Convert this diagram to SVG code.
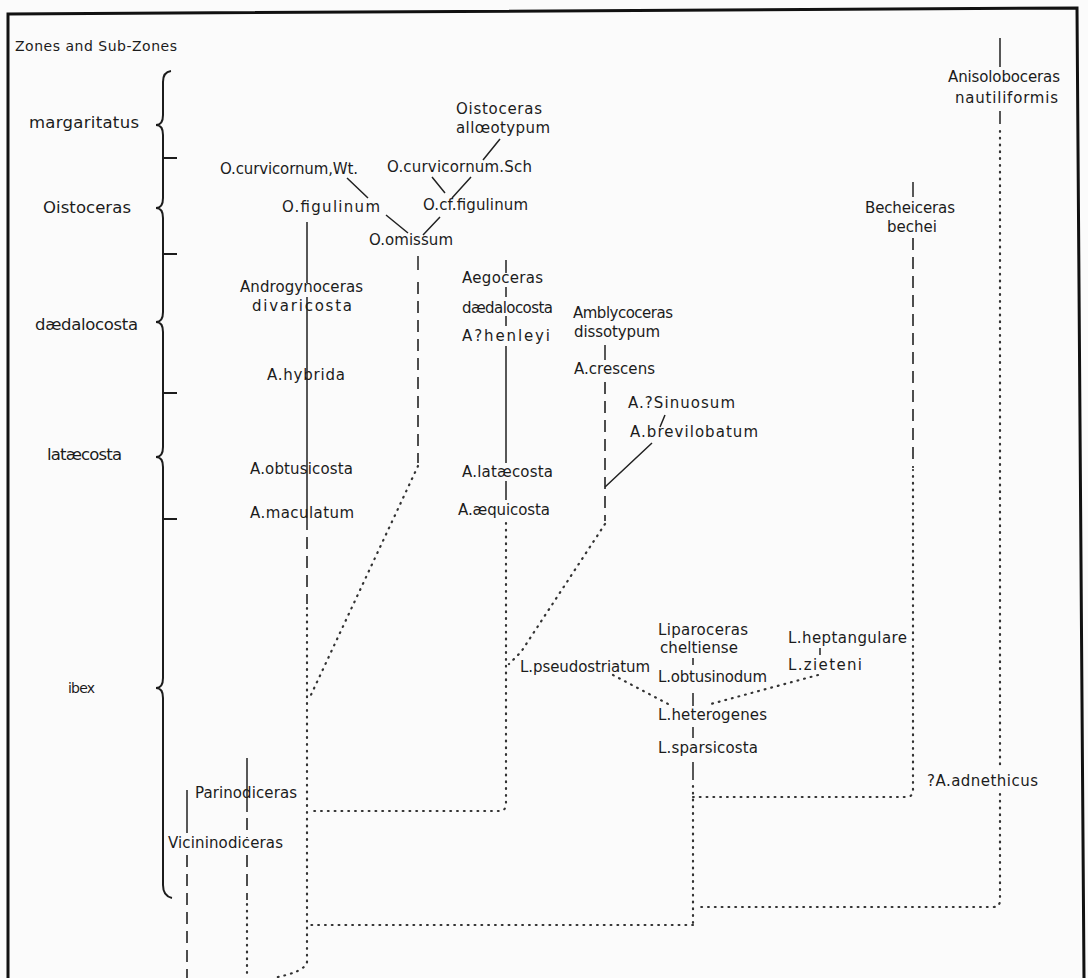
<svg xmlns="http://www.w3.org/2000/svg" width="1088" height="978" viewBox="0 0 1088 978">
<style>
text{font-family:"DejaVu Sans","Liberation Sans",sans-serif;fill:#1c1c1c}
.n{font-size:15px}
.z{font-size:16.5px}
.h{font-size:14px}
.s{fill:none;stroke:#222;stroke-width:1.5}
.d{fill:none;stroke:#222;stroke-width:1.6;stroke-dasharray:12 7}
.o{fill:none;stroke:#333;stroke-width:2.2;stroke-dasharray:0.8 6;stroke-linecap:round}
.f{fill:none;stroke:#111;stroke-width:3}
.b{fill:none;stroke:#1c1c1c;stroke-width:2}
</style>
<rect width="1088" height="978" fill="#fbfbfb"/>
<path class="f" d="M8,978 V14 L1077,8 L1084,978"/>
<g id="zones">
<text class="h" x="15" y="51" textLength="162">Zones and Sub-Zones</text>
<text class="z" x="29" y="128" textLength="110">margaritatus</text>
<text class="z" x="43" y="213" textLength="88">Oistoceras</text>
<text class="z" x="35" y="330" textLength="103">dædalocosta</text>
<text class="z" x="47" y="460" textLength="75">latæcosta</text>
<text class="h" x="68" y="693" textLength="27">ibex</text>
<path class="b" d="M171,71 Q163,72 163,82 L163,115 Q163,125 156,125 Q163,125 163,135 L163,198 Q163,208 156,208 Q163,208 163,218 L163,312 Q163,322 156,322 Q163,322 163,332 L163,447 Q163,457 156,457 Q163,457 163,467 L163,678 Q163,688 156,688 Q163,688 163,698 L163,885 Q163,896 172,898 M163,158 H177 M163,254 H177 M163,393 H177 M163,519 H177"/>
</g>
<g id="connectors">
<path class="s" d="M347,178 L368,198 M386,215 L408,233 M440,217 L423,235 M500,139 L483,160 M432,177 L445,193 M471,177 L452,198"/>
<path class="s" d="M418,256 V270"/>
<path class="d" d="M418,282 V463"/>
<path class="o" d="M418,466 L310,697"/>
<path class="s" d="M307,222 V283 M307,297 V530"/>
<path class="d" d="M307,537 V604"/>
<path class="o" d="M307,608 V962 Q305,972 273,978"/>
<path class="s" d="M506,260 V273 M506,287 V297 M506,316 V326 M506,346 V463 M506,481 V500"/>
<path class="o" d="M506,523 V804 Q506,811 499,811 H310"/>
<path class="s" d="M605,345 V360"/>
<path class="d" d="M605,382 V521"/>
<path class="o" d="M605,524 L521,652 L509,664"/>
<path class="s" d="M652,443 L605,487 M665,415 L660,427"/>
<path class="s" d="M693,658 V665 M693,693 V706 M693,727 V738 M693,762 V780"/>
<path class="o" d="M693,786 V925 M693,925 H310 M693,797 H906 Q913,797 913,790 V470"/>
<path class="o" d="M613,675 L670,705 M818,675 L707,705"/>
<path class="s" d="M820,648 V655"/>
<path class="s" d="M913,182 V197"/>
<path class="d" d="M913,238 V468"/>
<path class="s" d="M1000,38 V67 M1000,111 V124"/>
<path class="o" d="M1000,131 V768 M1000,794 V900 Q1000,907 993,907 H697"/>
<path class="s" d="M247,758 V812"/>
<path class="d" d="M247,818 V838 M247,855 V900"/>
<path class="o" d="M247,904 V978"/>
<path class="s" d="M187,790 V833"/>
<path class="d" d="M187,855 V978"/>
</g>
<g id="n-curvicornum-wt"><text class="n" x="220" y="174" textLength="138">O.curvicornum,Wt.</text></g>
<g id="n-curvicornum-sch"><text class="n" x="387" y="172" textLength="145">O.curvicornum.Sch</text></g>
<g id="n-alloeotypum"><text class="n" x="456" y="114" textLength="86">Oistoceras</text><text class="n" x="456" y="133" textLength="94">allœotypum</text></g>
<g id="n-figulinum"><text class="n" x="282" y="212" textLength="98">O.figulinum</text></g>
<g id="n-cf-figulinum"><text class="n" x="423" y="210" textLength="105">O.cf.figulinum</text></g>
<g id="n-omissum"><text class="n" x="369" y="245" textLength="84">O.omissum</text></g>
<g id="n-androgynoceras"><text class="n" x="240" y="292" textLength="123">Androgynoceras</text><text class="n" x="252" y="311" textLength="100">divaricosta</text></g>
<g id="n-hybrida"><text class="n" x="267" y="380" textLength="78">A.hybrida</text></g>
<g id="n-obtusicosta"><text class="n" x="250" y="474" textLength="103">A.obtusicosta</text></g>
<g id="n-maculatum"><text class="n" x="250" y="518" textLength="104">A.maculatum</text></g>
<g id="n-aegoceras"><text class="n" x="462" y="283" textLength="81">Aegoceras</text><text class="n" x="462" y="313" textLength="91">dædalocosta</text><text class="n" x="462" y="341" textLength="88">A?henleyi</text></g>
<g id="n-lataecosta"><text class="n" x="462" y="477" textLength="91">A.latæcosta</text></g>
<g id="n-aequicosta"><text class="n" x="458" y="515" textLength="92">A.æquicosta</text></g>
<g id="n-amblycoceras"><text class="n" x="573" y="318" textLength="100">Amblycoceras</text><text class="n" x="574" y="337" textLength="86">dissotypum</text></g>
<g id="n-crescens"><text class="n" x="574" y="374" textLength="81">A.crescens</text></g>
<g id="n-sinuosum"><text class="n" x="628" y="408" textLength="107">A.?Sinuosum</text></g>
<g id="n-brevilobatum"><text class="n" x="630" y="437" textLength="128">A.brevilobatum</text></g>
<g id="n-pseudostriatum"><text class="n" x="520" y="672" textLength="130">L.pseudostriatum</text></g>
<g id="n-liparoceras"><text class="n" x="658" y="635" textLength="90">Liparoceras</text><text class="n" x="660" y="653" textLength="78">cheltiense</text></g>
<g id="n-obtusinodum"><text class="n" x="658" y="682" textLength="109">L.obtusinodum</text></g>
<g id="n-heterogenes"><text class="n" x="658" y="720" textLength="109">L.heterogenes</text></g>
<g id="n-sparsicosta"><text class="n" x="658" y="753" textLength="100">L.sparsicosta</text></g>
<g id="n-heptangulare"><text class="n" x="788" y="643" textLength="119">L.heptangulare</text></g>
<g id="n-zieteni"><text class="n" x="788" y="670" textLength="74">L.zieteni</text></g>
<g id="n-becheiceras"><text class="n" x="865" y="213" textLength="90">Becheiceras</text><text class="n" x="887" y="232" textLength="50">bechei</text></g>
<g id="n-anisoloboceras"><text class="n" x="948" y="82" textLength="112">Anisoloboceras</text><text class="n" x="955" y="103" textLength="103">nautiliformis</text></g>
<g id="n-adnethicus"><text class="n" x="927" y="786" textLength="111">?A.adnethicus</text></g>
<g id="n-parinodiceras"><text class="n" x="195" y="798" textLength="102">Parinodiceras</text></g>
<g id="n-vicininodiceras"><text class="n" x="168" y="848" textLength="115">Vicininodiceras</text></g>
</svg>
